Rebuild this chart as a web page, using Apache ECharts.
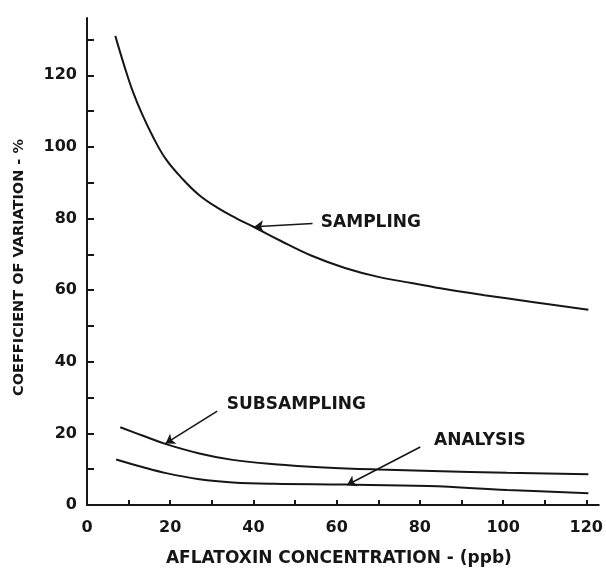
<!DOCTYPE html>
<html><head><meta charset="utf-8">
<script src="https://cdn.jsdelivr.net/npm/echarts@6/dist/echarts.min.js"></script>
<style>html,body{margin:0;padding:0;background:#fff}#c{width:606px;height:572px}</style>
</head><body><div id="c"></div>
<script>
// ---- data ----
const sampling = [[6.8,131],[9,122.5],[11,115.5],[13.3,109],[16,102.5],[19,96.5],[23,91],[27,86.5],[31.5,82.9],[36,80.0],[40,77.7],[46.5,73.8],[54,69.6],[62,66.2],[70,63.7],[78,62.0],[86,60.3],[95.5,58.6],[107,56.7],[120.5,54.5]];
const subsampling = [[8,21.7],[13.3,19.4],[19,17.0],[27,14.4],[35,12.6],[45,11.4],[57,10.5],[70,9.9],[83,9.5],[101,9.0],[120.5,8.6]];
const analysis = [[7,12.7],[13.3,10.6],[19,8.9],[27,7.2],[35,6.3],[45,5.9],[62,5.7],[82,5.3],[101,4.2],[120.5,3.3]];
const xTicks = [0,10,20,30,40,50,60,70,80,90,100,110,120];
const xLabels = [0,20,40,60,80,100,120];
const yTicks = [0,10,20,30,40,50,60,70,80,90,100,110,120,130];
const yLabels = [0,20,40,60,80,100,120];
const seriesNames = ['SAMPLING','SUBSAMPLING','ANALYSIS'];
const xTitle = 'AFLATOXIN CONCENTRATION - (ppb)';
const yTitle = 'COEFFICIENT OF VARIATION - %';

// ---- annotation placement (data units) ----
const notes = {
  SAMPLING:    {text:[56.2,78.8], from:[54.2,78.6], to:[40.2,77.7]},
  SUBSAMPLING: {text:[33.6,28.0], from:[31.3,26.2], to:[18.9,17.2]},
  ANALYSIS:    {text:[83.4,18.1], from:[80.1,16.2], to:[62.5,5.6]}
};

const FONT = 'DejaVu Sans';
const INK = '#161616';
const chart = echarts.init(document.getElementById('c'), null, {renderer:'canvas'});

function mk(name, data){
  const n = notes[name];
  return {
    name, type:'line', data, smooth:0.4, showSymbol:false, clip:false,
    lineStyle:{color:INK, width:2},
    markLine:{silent:true, animation:false, symbol:['none','arrow'], symbolSize:9,
      lineStyle:{color:INK, width:1.6, type:'solid'}, label:{show:false},
      data:[[{coord:n.from},{coord:n.to}]]},
    markPoint:{silent:true, animation:false, symbol:'circle', symbolSize:0,
      label:{show:true, position:'right', distance:0, formatter:name,
        fontFamily:FONT, fontWeight:'bold', fontSize:17, color:INK},
      data:[{coord:n.text}]}
  };
}

chart.setOption({
  animation:false,
  backgroundColor:'#fff',
  grid:{left:87, top:18, width:519, height:489.5, containLabel:false},
  xAxis:{type:'value', min:0, max:123,
    name:xTitle, nameLocation:'middle', nameGap:45,
    nameTextStyle:{fontFamily:FONT, fontWeight:'bold', fontSize:17, color:INK, padding:[0,8,0,0]},
    axisLine:{show:true, onZero:false, lineStyle:{color:INK, width:2}},
    axisTick:{show:true, inside:true, length:5, lineStyle:{color:INK, width:2}, customValues:xTicks},
    axisLabel:{show:true, margin:15, fontFamily:FONT, fontWeight:'bold', fontSize:16, color:INK, customValues:xLabels},
    splitLine:{show:false}},
  yAxis:{type:'value', min:0, max:136,
    name:yTitle, nameLocation:'middle', nameGap:60, nameRotate:90,
    nameTextStyle:{fontFamily:FONT, fontWeight:'bold', fontSize:14.5, color:INK, padding:[0,12,0,0]},
    axisLine:{show:true, onZero:false, lineStyle:{color:INK, width:2}},
    axisTick:{show:true, inside:true, length:7, lineStyle:{color:INK, width:2}, customValues:yTicks},
    axisLabel:{show:true, margin:10, fontFamily:FONT, fontWeight:'bold', fontSize:16, color:INK, customValues:yLabels},
    splitLine:{show:false}},
  series:[mk(seriesNames[0], sampling), mk(seriesNames[1], subsampling), mk(seriesNames[2], analysis)]
});
</script></body></html>
